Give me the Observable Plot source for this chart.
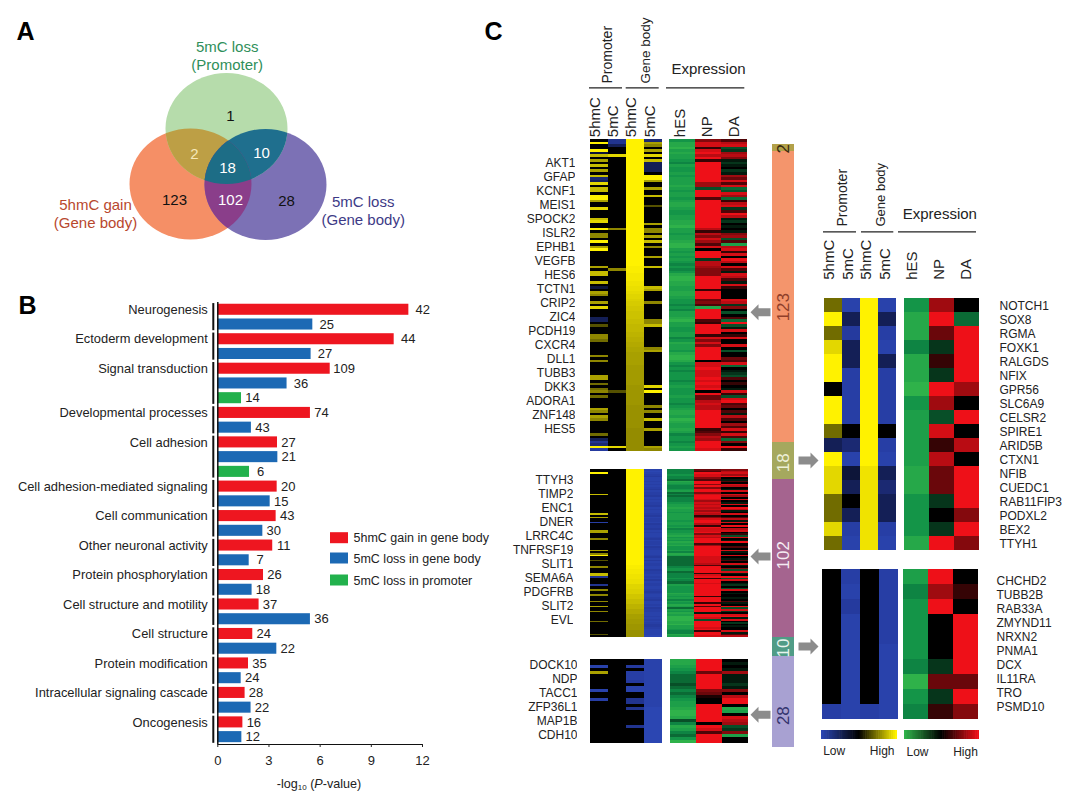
<!DOCTYPE html>
<html><head><meta charset="utf-8">
<script src="https://cdn.jsdelivr.net/npm/d3@7"></script>
<script src="https://cdn.jsdelivr.net/npm/@observablehq/plot@0.6"></script>
<style>
html,body{margin:0;background:#fff}
#page{position:relative;width:1076px;height:800px;overflow:hidden;font-family:"Liberation Sans",Arial,sans-serif;color:#222}
#page svg{position:absolute;background:transparent;max-width:none}
.axislabel{position:absolute;font-size:12.6px;white-space:nowrap;transform:translate(-50%,-50%)}
.axislabel sub{font-size:8px;vertical-align:-2px}
</style></head><body><div id="page"></div>
<script>
/* ---------- Panel B values ---------- */
const categories=["Neurogenesis","Ectoderm development","Signal transduction","Developmental processes","Cell adhesion","Cell adhesion-mediated signaling","Cell communication","Other neuronal activity","Protein phosphorylation","Cell structure and motility","Cell structure","Protein modification","Intracellular signaling cascade","Oncogenesis"];
const gainP=[11.2,10.34,6.59,5.43,3.5,3.48,3.42,3.22,2.68,2.42,2.05,1.8,1.6,1.47];
const gainN=[42,44,109,74,27,20,43,11,26,37,24,35,28,16];
const lossP=[5.57,5.47,4.06,1.97,3.52,3.07,2.64,1.84,2.01,5.43,3.46,1.37,1.95,1.41];
const lossN=[25,27,36,43,21,15,30,7,18,36,22,24,22,12];
const promoterP={"Signal transduction":1.39,"Cell adhesion":1.86};
const promoterN={"Signal transduction":14,"Cell adhesion":6};
const seriesNames=["5hmC gain in gene body","5mC loss in gene body","5mC loss in promoter"];
const seriesColors=["#ee1620","#1c69b4","#22b14c"];

/* ---------- Panel A values ---------- */
const vennCounts=["1","2","10","18","102","123","28"];
const vennSets=["top","left","right"];

/* ---------- Panel C: gene lists ---------- */
const genes123=["AKT1","GFAP","KCNF1","MEIS1","SPOCK2","ISLR2","EPHB1","VEGFB","HES6","TCTN1","CRIP2","ZIC4","PCDH19","CXCR4","DLL1","TUBB3","DKK3","ADORA1","ZNF148","HES5"];
const genes102=["TTYH3","TIMP2","ENC1","DNER","LRRC4C","TNFRSF19","SLIT1","SEMA6A","PDGFRB","SLIT2","EVL"];
const genes28=["DOCK10","NDP","TACC1","ZFP36L1","MAP1B","CDH10"];
const genes18=["NOTCH1","SOX8","RGMA","FOXK1","RALGDS","NFIX","GPR56","SLC6A9","CELSR2","SPIRE1","ARID5B","CTXN1","NFIB","CUEDC1","RAB11FIP3","PODXL2","BEX2","TTYH1"];
const genes10=["CHCHD2","TUBB2B","RAB33A","ZMYND11","NRXN2","PNMA1","DCX","IL11RA","TRO","PSMD10"];
const segmentNames=["2","123","18","102","10","28"];

/* Heat levels: digit 1-9 = positive (yellow / red), letter a-i = negative (blue / green), "." = zero (black),
   capital A-Z = fine positive levels from 0.5 to 1. "row:level" lists are sparse columns. */
const m123_1="1:9 4:9 5:b 6:7 8:6 10:7 12:6 14:7 15:d 16:c 17:8 19:7 20:7 22:9 23:9 24:6 27:8 31:7 32:8 35:9 37:5 38:5 40:9 42:6 43:9 50:6 52:7 53:7 56:7 58:b 60:6 61:5 64:6 66:8 70:c 71:c 73:3 77:5 78:5 79:4 85:5 87:5 93:6 94:6 96:4 98:4 99:5 101:4 106:6 107:5 109:6 110:5 116:4 118:c 119:e 120:d 121:9 122:f";
const m123_2="0:e 1:e 2:c 6:8 35:5 51:5 99:3 121:8";
const m123_3="ZZZZZZZZZZ ZZZZZZZZZZ ZZZZZZZZZZ ZZZZZZZZZZ ZZZZZZZZZZ YYYXXXWWVV UTTSRRQQPP POONNNMMLL KKJJIIIIIH HHHHHHHGGG GGGGGFFFFF FFFFEEEEEE EEE";
const m123_4="0:d 1:6 2:5 4:6 6:8 8:7 9:c 10:c 11:c 12:c 14:9 15:9 16:6 19:6 22:7 26:3 33:6 35:5 36:5 38:6 40:7 42:5 46:6 50:7 58:7 59:6 64:5 71:5 72:5 73:7 82:5 83:6 97:8 99:9 105:5 107:5 110:7 114:6 121:6 122:5";
const e123_1="fhhighggfe gffgfggghg fggfghhgff gghhiggfgg hiigfgfgfe fefhiihhgg hhgffefegg higgffggef hggfhiihfe fefffefgff fgffefghhg ihgghgeffe fgf";
const e123_2="5882897929 999999966c 9993999999 9999972758 638.999b77 6555999992 999453h999 9329999285 8599999.88 988898989. 9447877999 9999235769 998";
const e123_3="378cb675ab a.ba64838d c86d278b39 7ab.a.a56c 3g7828.97. 83a873a82. ...87b5.c. 3d9ca8.28. .8.c..438d .abc3.2.a8 2c8934.3a7 3.638283d5 .92";

const m102_1="2:9 15:7 27:7 29:6 32:g 37:6 38:6 42:5 49:6 51:5 52:9 55:3 59:5 63:7 64:7 65:e 70:e 73:5 76:5 80:5 83:6 86:5 92:4 100:3";
const m102_2="";
const m102_3="ZZZZZZZZZZ ZZZZZZZZZZ ZZZZZZZZZZ ZZZZZZZZZZ ZZZZZZZZZZ ZZZZZZZZYY YXXXWWWVVV TTTSSSQQQO OOMMMKKKII IHHHGGGGFF FF";
const m102_4="hihgfhhghg hgfhggfhgh ggfhghhgfh gghfggfhgh hgfhgghfgh hhgfhfhggh hfgghghfhg ghhgfghhgf hhghfgghhg hghgffghhh hi";
const e102_1="eeefeedhgf eefgdedeee fgghggfggg gfggfgeffg hfgfhghffg ehgdddddde ffdeeefedd gffffhgfge gfhgdgfhgi iihhiggfee hg";
const e102_2="4398853995 9599589986 8787868725 8997298895 8799936999 9998888739 9992892998 9999999299 9293999a99 8c99998929 98";
const e102_3="57869.a3.8 7.a8.86.8. a8.97a.8.3 7a8.9.78.2 c8.a9..3.8 a.8.a3.8a. 5c8a.9c8.a b.c8.a..a. 3a.9c8b.89 a8.b.a..8a 37";

const m28_1="2:h 4:6 10:h 13:g";
const m28_2="";
const m28_3="2:f 4:g 5:g 6:g 7:f 9:h 10:h 13:e 14:e 16:e 22:e";
const m28_4="hhhhhhhhhh hhhhhhiiii iiiiiiii";
const e28_1="hhgfedddcd edefgghiih ceh ged fig";
const e28_2="9999499999 54 1..999999 .98 3999";
const e28_3=".a.a6aaaba 5.799.hg.8 76cb5g..";

const m18_1="4948 99.9 94c9 8844 84";
const m18_2="hcfc cgggg.dhbc.cghg";
const m18_3="ZZZZZZZZZZZZWWWWWW";
const m18_4="hcghcgggg.ghcdccgh";
const e18_1="fhhehhifgggghhfffh";
const e18_2="69 4b2b9 6c82 744b.b9";
const e18_3=".d99996.9.7.9995 95";

const m10_1=".........g";
const m10_2="ghfhhhhhhh";
const m10_3=".........g";
const m10_4="ggggghhhhh";
const e10_1="geffffeife";
const e10_2="969...b4b2";
const e10_3=".2.99994 95";

/* ---------- Layout (positions and styles, separate from the values) ---------- */
const FONT='"Liberation Sans",Arial,sans-serif';
const page=document.getElementById("page");
const put=(node,left,top)=>{node.style.left=left+"px";node.style.top=top+"px";page.appendChild(node);return node;};

const BLUE="#2b46b2",YEL="#fff200",GRN="#2fb24a",RED="#ee1018";
const level=c=>{
  if(c>="1"&&c<="9")return (+c)/9;
  if(c>="a"&&c<="i")return -(c.charCodeAt(0)-96)/9;
  if(c>="A"&&c<="Z")return 0.5+(c.charCodeAt(0)-65)*0.02;
  return 0;
};
function column(src,n){
  if(src===""||src.includes(":")){
    const out=new Array(n).fill(0);
    if(src) src.split(" ").forEach(p=>{const [r,l]=p.split(":");out[+r]=level(l);});
    return out;
  }
  const s=src.replace(/ /g,"");
  return d3.range(n).map(i=>level(s[Math.min(i,s.length-1)]));
}
const scaleDomain=[-1,-0.6,0,1];
const METH=[BLUE,"#24389a","#000",YEL],EXPR=[GRN,"#0f8f48","#000",RED];
function heat(cols,n,colors,left,top,w,h){
  const names=cols.map((_,i)=>i);
  const cells=[];
  cols.forEach((src,c)=>column(src,n).forEach((v,r)=>cells.push({c,r,v})));
  const svg=Plot.plot({width:w,height:h,margin:0,style:{fontFamily:FONT},
    x:{axis:null,type:"band",domain:names,padding:0},
    y:{axis:null,type:"band",domain:d3.range(n),padding:0},
    color:{type:"linear",domain:scaleDomain,range:colors},
    marks:[Plot.cell(cells,{x:"c",y:"r",fill:"v",inset:0,shapeRendering:"crispEdges"})]});
  svg.style.filter="blur(0.45px)";
  put(svg,left,top);
}
heat([m123_1,m123_2,m123_3,m123_4],123,METH,589,139,73,312);
heat([e123_1,e123_2,e123_3],123,EXPR,667.7,139,80.6,312);
heat([m102_1,m102_2,m102_3,m102_4],102,METH,589.3,468.7,73.4,168);
heat([e102_1,e102_2,e102_3],102,EXPR,667,468.7,81.7,168);
heat([m28_1,m28_2,m28_3,m28_4],28,METH,588,654.7,75.7,92.6);
heat([e28_1,e28_2,e28_3],28,EXPR,669,654.7,80.3,92.6);
heat([m18_1,m18_2,m18_3,m18_4],18,METH,822.3,291.7,75,263.6);
heat([e18_1,e18_2,e18_3],18,EXPR,902.7,291.7,76.3,263.6);
heat([m10_1,m10_2,m10_3,m10_4],10,METH,821,568,77,152);
heat([e10_1,e10_2,e10_3],10,EXPR,902,568,77.3,152);

/* colour keys */
function key(colors,left,top,w,h){
  const steps=d3.range(-1,1.0001,0.05);
  put(Plot.plot({width:w,height:h,margin:0,x:{axis:null,type:"band",padding:0},y:{axis:null},
    color:{type:"linear",domain:[-1,0,1],range:[colors[0],"#000",colors[3]]},
    marks:[Plot.cell(steps,{x:d=>d,fill:d=>d,inset:-0.3})]}),left,top);
}
key(METH,821.3,730,76,8.7);
key(EXPR,903.7,730,75.3,8.7);

/* gene labels */
function geneList(names,x,first,last,anchor,size){
  const W=110,M=9;
  put(Plot.plot({width:W,height:(last-first)+2*M,marginTop:M,marginBottom:M,marginLeft:0,marginRight:0,style:{fontFamily:FONT,color:"#222"},
    x:{axis:null,domain:[0,1],range:[0,W]},
    y:{axis:null,type:"point",domain:names,padding:0},
    marks:[Plot.text(names,{y:d=>d,x:anchor==="end"?1:0,text:d=>d,textAnchor:anchor,fontSize:size,fill:"#222"})]}),
    anchor==="end"?x-W:x,first-M);
}
geneList(genes123,575,155,436.7,"end",12);
geneList(genes102,572.7,475,624.3,"end",12);
geneList(genes28,576.7,663.3,737.3,"end",12);
geneList(genes18,999,299,550,"start",12);
geneList(genes10,996,576.7,711,"start",12);

/* segment strip */
const segLen=[7,291,37,158,19,91];
const segFill=["#b3a14a","#f4956c","#a5a85e","#a5648f","#509c86","#a8a1d2"];
const segText=["#3a2a10","#8f3f2a","#eef0d8","#f4eaf2","#e8f4ee","#33336e"];
const segLabelFrac=[0.6,0.535,0.55,0.48,0.55,0.65];
{
  const total=d3.sum(segLen);let acc=0;
  const segs=segmentNames.map((name,i)=>{const y1=acc;acc+=segLen[i];return {name,y1,y2:acc,fill:segFill[i],tc:segText[i],ly:y1+segLen[i]*segLabelFrac[i]};});
  put(Plot.plot({width:22,height:total,margin:0,style:{fontFamily:FONT},
    x:{axis:null,domain:[0,1],range:[0,22]},y:{axis:null,domain:[0,total],range:[0,total]},
    marks:[Plot.rect(segs,{x1:0,x2:1,y1:"y1",y2:"y2",fill:d=>d.fill,shapeRendering:"crispEdges"}),
      Plot.text(segs,{x:0.5,y:"ly",text:"name",rotate:-90,fontSize:17,fill:d=>d.tc})]}),772,144);
}

/* Panel A */
const vennX=[226,190,265],vennY=[128,183.5,184];
const vennFill=["#b6dcab","#f58f66","#7c71b5"];
{
  const Y0=60,H=200,K=0.91,T=H/K;
  const idx={top:0,left:1,right:2};
  const pt=s=>({x:vennX[idx[s]],y:vennY[idx[s]]});
  const base=[Plot.dot(vennSets.filter(s=>s==="left").map(pt),{x:"x",y:"y",r:61,fill:vennFill[1]}),
    Plot.dot(vennSets.filter(s=>s==="right").map(pt),{x:"x",y:"y",r:61,fill:vennFill[2]}),
    Plot.dot(vennSets.filter(s=>s==="top").map(pt),{x:"x",y:"y",r:61,fill:vennFill[0]})];
  const overlaps=[{s:"top",a:"left",fill:"#bd9f45"},{s:"top",a:"right",fill:"#1f6f8e"},{s:"left",a:"right",fill:"#8a3e8a"},{s:"right",a:"left",b:"top",fill:"#1d6d86"}];
  const svg=Plot.plot({width:240,height:T,margin:0,
    x:{axis:null,domain:[110,350],range:[0,240]},y:{axis:null,domain:[Y0,Y0+H],range:[0,T]},
    marks:[...base,...overlaps.map(o=>Plot.dot([pt(o.s)],{x:"x",y:"y",r:61,fill:o.fill}))]});
  const cs=svg.querySelectorAll("circle");
  const order={left:cs[0],right:cs[1],top:cs[2]};
  const defs=d3.select(svg).append("defs");
  Object.entries(order).forEach(([k,c])=>{
    defs.append("clipPath").attr("id","clip-"+k).append("circle")
      .attr("cx",c.getAttribute("cx")).attr("cy",c.getAttribute("cy")).attr("r",c.getAttribute("r"));
  });
  overlaps.forEach((o,i)=>{
    const c=cs[3+i];
    c.setAttribute("clip-path",`url(#clip-${o.a})`);
    if(o.b)c.parentNode.setAttribute("clip-path",`url(#clip-${o.b})`);
  });
  svg.style.transformOrigin="0 0";svg.style.transform=`scaleY(${K})`;
  put(svg,110,Y0);
}

/* Panel B */
{
  const rows=[];const groups=[];
  categories.forEach((cat,i)=>{
    const start=rows.length;
    rows.push({cat,s:seriesNames[0],v:gainP[i],n:gainN[i]});
    rows.push({cat,s:seriesNames[1],v:lossP[i],n:lossN[i]});
    if(promoterP[cat]!=null)rows.push({cat,s:seriesNames[2],v:promoterP[cat],n:promoterN[cat]});
    groups.push({cat,y1:start-0.42,y2:rows.length-1+0.42,yl:start});
  });
  rows.forEach((r,i)=>r.i=i);
  const far=rows.filter(r=>r.i<6),near=rows.filter(r=>r.i>=6);
  const color={domain:seriesNames,range:seriesColors};
  put(Plot.plot({width:480,height:510,marginLeft:217.3,marginRight:58,marginTop:11.9,marginBottom:56,
    style:{fontFamily:FONT,color:"#222"},
    x:{domain:[0,12],label:null},
    y:{axis:null,domain:[29.5,-0.5]},
    color,
    marks:[
      Plot.rect(rows,{x1:0,x2:"v",y1:d=>d.i-0.375,y2:d=>d.i+0.375,fill:"s"}),
      Plot.text(far,{x:"v",y:"i",text:"n",dx:14,fontSize:13,fill:"#222"}),
      Plot.text(near,{x:"v",y:"i",text:"n",dx:11,fontSize:13,fill:"#222"}),
      Plot.text(groups,{x:0,y:"yl",text:"cat",textAnchor:"end",dx:-10,fontSize:12.9,fill:"#222"}),
      Plot.ruleX(groups,{x:0,y1:"y1",y2:"y2",dx:-4.5,stroke:"#111",strokeWidth:2}),
      Plot.ruleX([0],{stroke:"#111",strokeWidth:1.5}),
      Plot.ruleY([29.5],{stroke:"#111",strokeWidth:1.2}),
      Plot.axisX({ticks:[0,3,6,9,12],tickSize:3,tickPadding:8,fontSize:13,label:null,tickFormat:d3.format("d")})
    ]}),0,290);
  const lab=document.createElement("div");lab.className="axislabel";
  lab.innerHTML='-log<sub>10</sub> (<i>P</i>-value)';
  put(lab,319,784);
}

/* Annotation layer (page-coordinate text, rules and arrows) */
const panelLabels=[{t:"A",x:16,y:31},{t:"B",x:18,y:305},{t:"C",x:484,y:31}];
const vennLabelRows=[
  {t:"1",x:230,y:116,c:"#111"},{t:"2",x:194,y:154,c:"#f6e8b8"},{t:"10",x:261,y:153,c:"#fff"},{t:"18",x:227,y:168,c:"#fff"},
  {t:"102",x:230,y:200,c:"#fff"},{t:"123",x:174,y:200,c:"#111"},{t:"28",x:286,y:201,c:"#111"}];
const vennSetLabels=[
  {t:"5mC loss\n(Promoter)",x:226.7,y:55,c:"#2f8f5a"},
  {t:"5hmC gain\n(Gene body)",x:95,y:213,c:"#b8472e"},
  {t:"5mC loss\n(Gene body)",x:362.7,y:210,c:"#3d3a86"}];
const legendY=[537.7,558,580];
const headerH=[{t:"Expression",x:708,y:69},{t:"Expression",x:939.3,y:214}];
const headerGroups=[
  {t:"Promoter",x:607,y:83,s:14},{t:"Gene body",x:645,y:83,s:13.5},{t:"Promoter",x:841.7,y:226,s:14},{t:"Gene body",x:880,y:226,s:13}];
const headerV=["5hmC","5mC","5hmC","5mC","hES","NP","DA"].flatMap((t,i)=>[
    {t,x:[595,613,630.7,650,680,707,734][i],y:136.7},
    {t,x:[828.3,847.7,865.7,884.3,911.7,938.3,965.7][i],y:279.3}]);
const headerLines=[[589,622,87.3],[625.7,658.7,87.3],[666,744.3,87.3],[823,856,231.3],[861,893.3,231.3],[898,976,231.3]];
const keyLabels=[{t:"Low",x:833.7,y:751},{t:"High",x:881.7,y:751},{t:"Low",x:917,y:752},{t:"High",x:965,y:752}];
const arrowShape=dir=>({draw(c,s){const u=Math.sqrt(s/Math.PI)/10;[[-10,0],[-2,-8],[-2,-4],[10,-4],[10,4],[-2,4],[-2,8]].forEach((p,i)=>i?c.lineTo(dir*p[0]*u,p[1]*u):c.moveTo(dir*p[0]*u,p[1]*u));c.closePath();}});
put(Plot.plot({width:1076,height:800,margin:0,style:{fontFamily:FONT,pointerEvents:"none"},
  x:{axis:null,domain:[0,1076],range:[0,1076]},y:{axis:null,domain:[0,800],range:[0,800]},
  marks:[
    Plot.text(panelLabels,{x:"x",y:"y",text:"t",textAnchor:"start",fontSize:25,fontWeight:"bold",fill:"#000"}),
    Plot.text(vennLabelRows,{x:"x",y:"y",text:"t",fontSize:15,fill:"c"}),
    Plot.text(vennSetLabels,{x:"x",y:"y",text:"t",fontSize:15,lineHeight:1.2,fill:"c"}),
    Plot.rect(seriesNames.map((s,i)=>({s,y:legendY[i]})),{x1:330,x2:348,y1:d=>d.y-5.5,y2:d=>d.y+5.5,fill:(d,i)=>seriesColors[i]}),
    Plot.text(seriesNames.map((s,i)=>({s,y:legendY[i]})),{x:353,y:"y",text:"s",textAnchor:"start",fontSize:12.5,fill:"#222"}),
    Plot.text(headerH,{x:"x",y:"y",text:"t",fontSize:15,fill:"#222"}),
    Plot.text(headerV,{x:"x",y:"y",text:"t",rotate:-90,textAnchor:"start",fontSize:15,fill:"#222"}),
    ...headerGroups.map(h=>Plot.text([h],{x:"x",y:"y",text:"t",rotate:-90,textAnchor:"start",fontSize:h.s,fill:"#222"})),
    Plot.ruleY(headerLines,{x1:d=>d[0],x2:d=>d[1],y:d=>d[2],stroke:"#222",strokeWidth:1.3}),
    Plot.text(keyLabels,{x:"x",y:"y",text:"t",fontSize:12,fill:"#222"}),
    Plot.dot([311.7,556,714.3],{x:760,y:d=>d,r:10,symbol:arrowShape(1),fill:"#8c8c8c",stroke:null}),
    Plot.dot([460,646],{x:808,y:d=>d,r:10,symbol:arrowShape(-1),fill:"#8c8c8c",stroke:null})
  ]}),0,0);
</script></body></html>
